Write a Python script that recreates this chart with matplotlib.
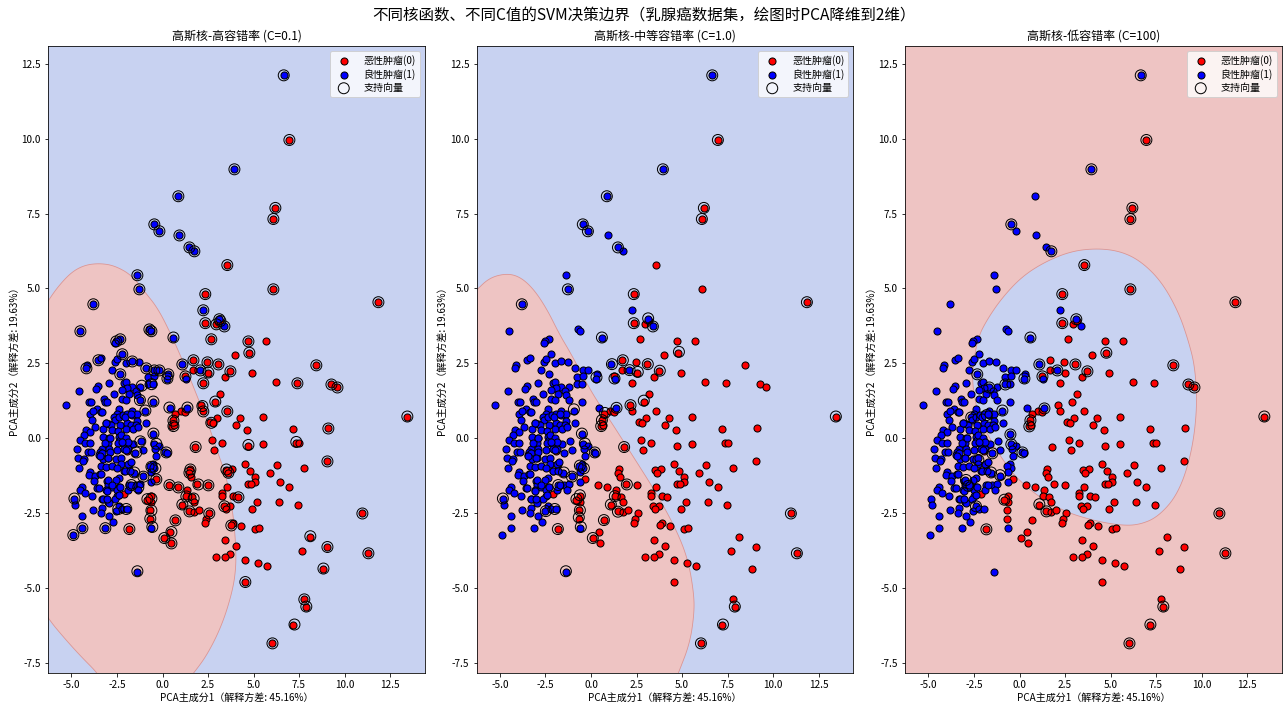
import numpy as np
import matplotlib
matplotlib.use("Agg")
import matplotlib.pyplot as plt

plt.rcParams['font.family'] = ['Noto Sans CJK SC', 'DejaVu Sans']
plt.rcParams['axes.unicode_minus'] = False

# values (PCA1, PCA2)
malignant = [
    (6.97,9.96),(6.20,7.69),(6.09,7.32),(3.56,5.78),(6.09,4.97),(2.35,4.81),(2.35,3.84),(11.86,4.54),(2.96,3.80),(3.18,3.91),
    (2.68,3.30),(4.72,3.23),(5.71,3.23),(4.77,2.85),(4.00,2.76),(1.70,2.60),(2.47,2.53),(3.07,2.46),(8.45,2.43),(1.70,2.26),
    (2.52,2.19),(3.73,2.23),(4.94,2.19),(1.26,2.06),(3.45,2.03),(6.26,1.86),(7.41,1.83),(2.24,1.83),(9.28,1.79),(9.61,1.69),
    (3.18,1.46),(2.90,1.22),(2.14,1.09),(3.56,0.89),(2.24,0.89),(1.04,0.92),(1.26,0.86),(0.71,0.82),(0.60,0.59),(0.54,0.39),
    (0.65,0.42),(5.54,0.69),(4.28,0.66),(3.01,0.66),(2.63,0.52),(2.79,0.49),(4.06,0.42),(4.66,0.26),(7.19,0.29),(9.11,0.32),
    (13.45,0.72),(2.74,-0.05),(3.29,-0.15),(1.81,-0.31),(2.85,-0.41),(4.72,-0.25),(5.54,-0.21),(7.35,-0.15),(7.52,-0.15),(9.06,-0.78),
    (4.55,-0.85),(6.31,-0.91),(7.79,-1.01),(1.53,-1.05),(1.48,-1.18),(1.59,-1.31),(3.51,-1.08),(3.84,-1.05),(3.62,-1.18),(4.83,-1.11),
    (5.93,-1.18),(5.10,-1.31),(5.10,-1.48),(4.72,-1.55),(4.88,-1.55),(6.48,-1.48),(6.97,-1.65),(1.92,-1.55),(2.52,-1.58),(3.56,-1.62),
    (0.38,-1.58),(0.87,-1.65),(1.37,-1.75),(1.31,-1.95),(1.64,-1.98),(3.29,-1.85),(3.29,-1.92),(3.89,-1.92),(4.17,-1.98),(1.75,-2.12),
    (5.21,-2.12),(6.42,-2.12),(7.46,-2.22),(1.09,-2.22),(3.40,-2.28),(3.73,-2.28),(3.51,-2.38),(4.94,-2.38),(1.48,-2.45),(1.75,-2.48),
    (2.03,-2.42),(2.57,-2.52),(10.98,-2.52),(2.41,-2.72),(2.35,-2.85),(0.71,-2.75),(3.89,-2.85),(3.78,-2.92),(4.33,-2.95),(5.10,-3.05),
    (5.32,-2.99),(-1.82,-3.05),(0.43,-3.15),(0.10,-3.35),(0.49,-3.52),(3.45,-3.42),(8.12,-3.29),(4.06,-3.62),(9.06,-3.65),(7.68,-3.79),
    (11.31,-3.85),(3.73,-3.89),(2.96,-3.96),(3.45,-3.99),(4.55,-4.09),(5.27,-4.19),(5.76,-4.26),(8.84,-4.36),(4.55,-4.82),(7.79,-5.39),
    (7.90,-5.63),(7.19,-6.23),(6.04,-6.86),(-0.67,-2.42),(-0.67,-2.69),(-0.61,-1.92),(-0.61,-2.12),(-0.83,-2.06),(-0.34,-1.38),(-2.10,-1.88),
    (-1.95,-0.42),(-1.82,-0.85),
]
benign = [
    (6.66,12.12),(3.95,8.98),(0.87,8.08),(-0.45,7.14),(-0.17,6.91),(0.93,6.77),(1.48,6.37),(1.75,6.24),(-1.38,5.44),(-1.27,4.97),
    (-3.80,4.47),(-4.51,3.57),(2.24,4.27),(3.12,3.97),(3.40,3.73),(-0.72,3.63),(-0.61,3.57),(0.60,3.36),(-2.32,3.30),(-2.54,3.23),
    (-2.59,3.19),(-5.28,1.12),(-4.57,1.56),(-4.13,2.43),(-4.18,2.33),(-3.52,2.60),(-3.36,2.66),(-2.59,2.53),(-2.48,2.63),(-2.21,2.80),
    (-2.76,2.29),(-1.99,2.50),(-1.66,2.56),(-1.27,2.53),(-0.89,2.33),(-2.32,2.13),(-2.92,1.83),(-3.52,1.73),(-3.63,1.63),(-2.10,1.83),
    (-1.99,1.86),(-0.78,2.03),(-0.45,2.26),(-0.17,2.26),(-0.45,2.09),(0.32,2.13),(0.27,1.99),(1.09,2.46),(2.08,2.26),(1.31,1.96),
    (-0.78,1.79),(-0.50,1.79),(-1.66,1.69),(-1.93,1.66),(-2.21,1.59),(-1.22,1.69),(-1.44,1.56),(-1.82,1.46),(-1.38,1.43),(-2.65,1.46),
    (-4.02,1.22),(-3.91,1.19),(-3.20,1.29),(-3.14,1.22),(-3.03,1.19),(-2.21,1.29),(-1.99,1.26),(-1.22,1.26),(-0.50,1.22),(-0.94,0.92),
    (0.43,1.02),(1.37,0.99),(-3.58,0.96),(-3.96,0.82),(-3.80,0.89),(-3.36,0.86),(-3.85,0.59),(-2.37,0.96),(-2.48,0.82),(-2.65,0.69),
    (-2.59,0.59),(-2.37,0.69),(-2.15,0.76),(-1.93,0.79),(-1.66,0.92),(-1.66,0.76),(-1.38,0.79),(-3.09,0.49),(-2.92,0.46),(-2.32,0.42),
    (-1.93,0.49),(-1.38,0.56),(-0.89,0.49),(-1.71,0.42),(-1.44,0.42),(-1.99,0.29),(-1.60,0.29),(-1.33,0.36),(-3.69,0.36),(-2.81,0.42),
    (-3.25,0.29),(-2.76,0.26),(-2.43,0.22),(-4.18,0.26),(-3.96,0.19),(-4.29,0.09),(-3.25,0.05),(-2.37,0.05),(-2.92,-0.01),(-2.32,-0.08),
    (-1.99,-0.15),(-4.51,-0.08),(-4.24,-0.18),(-3.96,-0.15),(-2.98,-0.18),(-2.43,-0.18),(-2.15,-0.15),(-1.16,-0.11),(-1.60,-0.21),(-0.50,0.12),
    (-0.45,-0.21),(-0.17,-0.25),(-0.39,-0.35),(-4.68,-0.38),(-4.07,-0.45),(-3.91,-0.45),(-3.30,-0.35),(-3.41,-0.45),(-2.92,-0.38),(-2.48,-0.41),
    (-2.10,-0.35),(-1.88,-0.38),(-1.05,-0.41),(-1.49,-0.51),(0.16,-0.48),(0.24,-0.50),(-0.34,-0.61),(-4.62,-0.65),(-4.29,-0.71),(-4.35,-0.78),
    (-3.47,-0.58),(-3.30,-0.51),(-3.25,-0.71),(-2.98,-0.65),(-2.53,-0.71),(-2.26,-0.68),(-2.26,-0.85),(-1.88,-0.88),(-4.57,-1.01),(-3.36,-0.95),
    (-3.08,-0.98),(-2.76,-0.95),(-2.48,-1.01),(-0.50,-0.85),(-0.45,-1.00),(-0.67,-0.95),(-3.96,-1.15),(-4.02,-1.25),(-3.69,-1.28),(-3.41,-1.21),
    (-2.10,-1.11),(-1.55,-1.16),(-0.61,-1.15),(-1.05,-1.28),(-3.74,-1.45),(-3.03,-1.42),(-2.37,-1.35),(-2.98,-1.57),(-3.58,-1.68),(-4.40,-1.62),
    (-4.51,-1.75),(-4.24,-1.85),(-3.85,-1.92),(-3.09,-1.75),(-2.76,-1.62),(-2.37,-1.62),(-1.82,-1.58),(-1.49,-1.58),(-1.22,-1.55),(-1.88,-1.75),
    (-1.33,-1.72),(-0.61,-1.48),(-2.48,-1.75),(-2.48,-1.92),(-4.84,-2.02),(-4.79,-2.22),(-3.30,-2.05),(-3.09,-2.02),(-2.98,-2.15),(-2.37,-2.28),
    (-2.53,-2.45),(-2.21,-2.38),(-1.93,-2.38),(-3.80,-2.42),(-3.30,-2.35),(-3.36,-2.52),(-4.40,-2.62),(-2.92,-2.62),(-2.70,-2.79),(-4.40,-3.02),
    (-3.14,-3.02),(-4.90,-3.25),(-0.61,-2.99),(-1.38,-4.46),
    (-3.30,0.86),(-2.04,0.71),(-1.71,0.82),(-3.08,0.49),(-2.26,0.10),(-1.99,-0.01),(-1.89,-0.12),(-2.22,-0.12),(-3.18,-0.18),(-2.90,0.00),
    (-3.45,-0.60),(-2.90,-0.46),(-1.99,-0.40),(-3.00,-0.68),(-1.75,-0.81),(-2.08,-1.10),(-1.80,-1.10),(-3.36,-1.20),(-2.54,-1.40),(-2.99,-1.40),
    (-2.76,-1.57),(-1.71,-1.57),(-3.07,-1.76),(-2.32,-1.63),(-2.63,-2.05),(-2.39,-1.90),(-2.94,-2.18),(-3.27,-2.05),(-3.03,-2.05),(-3.51,-1.68),
]

sv_low_c = [
    (6.66,12.12),(6.97,9.96),(3.95,8.98),(0.87,8.08),(-0.45,7.14),(-0.17,6.91),(0.93,6.77),(1.48,6.37),(1.75,6.24),(-1.38,5.44),
    (-1.27,4.97),(3.56,5.78),(6.20,7.69),(6.09,7.32),(6.09,4.97),(2.35,4.81),(2.35,3.84),(11.86,4.54),(-3.80,4.47),(-4.51,3.57),
    (2.24,4.27),(3.12,3.97),(3.40,3.73),(3.18,3.91),(2.96,3.80),(-0.72,3.63),(-0.61,3.57),(0.60,3.36),(-2.32,3.30),(-2.54,3.23),
    (2.68,3.30),(4.72,3.23),(4.77,2.85),(1.70,2.60),(2.47,2.53),(3.07,2.46),(8.45,2.43),(7.41,1.83),(9.28,1.79),(9.61,1.69),
    (-3.52,2.60),(-4.18,2.33),(-2.21,2.80),(-1.66,2.56),(-2.32,2.13),(-0.89,2.33),(-0.45,2.26),(-0.17,2.26),(0.32,2.13),(0.27,1.99),
    (1.09,2.46),(2.08,2.26),(2.52,2.19),(3.73,2.23),(1.26,2.06),(2.24,1.83),(-1.14,1.75),(-0.60,1.80),(-0.50,1.22),(-1.24,1.27),
    (-0.94,0.92),(0.38,1.02),(1.37,1.02),(0.60,0.40),(0.60,0.58),(2.19,1.07),(2.24,0.89),(2.68,0.51),(3.56,0.89),(2.90,1.22),
    (13.45,0.72),(9.11,0.32),(7.35,-0.13),(9.06,-0.78),(4.72,-0.23),(1.82,-0.30),(-0.50,0.15),(-0.34,-0.19),(-1.22,-0.11),(-1.44,-0.48),
    (0.21,-0.48),(-0.61,-0.96),(-0.39,-1.01),(-1.55,-1.15),(-1.05,-1.29),(-0.34,-1.38),(-1.71,-1.57),(-1.33,-1.65),(1.53,-1.05),(1.48,-1.16),
    (3.51,-1.05),(3.62,-1.16),(0.38,-1.57),(0.87,-1.65),(1.97,-1.55),(2.52,-1.58),(4.17,-1.98),(1.31,-1.95),(1.71,-2.02),(1.09,-2.22),
    (1.48,-2.45),(3.40,-2.28),(2.57,-2.52),(3.78,-2.92),(0.71,-2.75),(-0.61,-2.02),(-0.83,-2.04),(-0.61,-2.42),(-0.67,-2.69),(-0.56,-2.97),
    (-2.43,-2.37),(-1.99,-2.37),(-4.84,-2.02),(-4.40,-3.01),(-4.90,-3.24),(-3.14,-3.01),(-1.82,-3.04),(0.49,-3.14),(0.10,-3.34),(0.49,-3.52),
    (-1.38,-4.45),(10.98,-2.52),(8.12,-3.28),(9.06,-3.64),(11.31,-3.85),(8.84,-4.36),(4.55,-4.81),(7.79,-5.39),(7.90,-5.63),(7.25,-6.23),
    (6.04,-6.86),
]
sv_mid_c = [
    (6.66,12.12),(6.97,9.96),(3.95,8.98),(0.87,8.08),(-0.45,7.14),(-0.17,6.91),(1.48,6.37),(6.20,7.69),(6.09,7.32),(-1.27,4.97),
    (-3.80,4.47),(2.35,4.81),(2.35,3.84),(3.14,4.00),(3.40,3.73),(11.86,4.54),(0.60,3.36),(4.83,2.88),(1.75,2.60),(1.15,2.47),
    (2.12,2.27),(2.57,2.21),(3.12,2.47),(3.78,2.25),(0.30,2.03),(1.29,1.99),(2.17,1.10),(2.90,1.25),(1.40,1.01),(0.76,0.84),
    (0.60,0.60),(0.56,0.40),(-0.94,0.96),(-0.50,0.15),(-0.34,-0.18),(0.21,-0.48),(1.82,-0.30),(-1.49,-1.15),(-0.61,-0.92),(-0.39,-1.01),
    (-1.05,-1.29),(-1.80,-1.57),(1.97,-1.55),(-0.61,-1.91),(-0.80,-2.04),(-0.61,-2.41),(-0.67,-2.65),(-0.56,-2.97),(1.31,-1.94),(1.09,-2.22),
    (1.48,-2.46),(0.71,-2.74),(0.10,-3.34),(-1.38,-4.45),(-1.82,-3.04),(-4.84,-2.02),(-2.48,-2.44),(-1.99,-2.37),(13.45,0.72),(10.98,-2.52),
    (11.31,-3.85),(7.90,-5.63),(7.25,-6.23),(6.04,-6.86),
]
sv_high_c = [
    (6.66,12.12),(6.97,9.96),(3.95,8.98),(-0.45,7.14),(1.75,6.24),(6.20,7.69),(6.09,7.32),(3.56,5.78),(6.09,4.97),(2.35,4.81),
    (2.35,3.84),(3.12,3.97),(11.86,4.54),(0.60,3.36),(4.77,2.85),(1.09,2.46),(2.08,2.26),(3.07,2.46),(3.73,2.23),(1.26,2.06),
    (8.45,2.43),(9.28,1.79),(9.61,1.69),(13.45,0.72),(-2.32,2.13),(0.27,1.99),(-0.78,1.79),(-1.66,1.69),(-0.94,0.92),(1.37,0.99),
    (-2.65,0.69),(0.60,0.59),(0.54,0.39),(-1.80,0.77),(-0.50,0.12),(-0.45,-0.21),(0.16,-0.48),(-1.49,-0.51),(-2.26,-0.73),(-1.56,-1.15),
    (-1.07,-1.24),(-2.94,-1.40),(-2.81,-1.60),(-0.83,-2.06),(1.09,-2.21),(1.48,-2.45),(-2.39,-2.28),(-1.82,-3.05),(10.98,-2.52),(11.31,-3.85),
    (7.90,-5.63),(7.19,-6.23),(6.04,-6.86),
]

# decision boundaries, the outer points lie past the axes
boundary_low_c = [
    (-7.3,3.6),(-6.29,4.58),(-5.74,5.06),(-5.01,5.54),(-4.28,5.78),(-3.45,5.84),(-2.63,5.76),(-1.71,5.45),(-0.98,4.89),(-0.25,4.33),
    (0.49,3.44),(1.33,2.27),(2.06,1.16),(2.50,0.49),(3.05,-0.51),(3.51,-1.29),(3.88,-2.52),(4.02,-3.52),(4.04,-4.30),(3.86,-5.08),
    (3.30,-6.20),(2.50,-7.20),(1.70,-7.87),(0.8,-8.5),(-2.9,-8.5),(-3.54,-7.87),(-4.46,-7.31),(-5.37,-6.70),(-6.29,-6.03),(-7.3,-5.0),
]
boundary_mid_c = [
    (-7.3,4.3),(-6.29,4.95),(-5.56,5.36),(-4.64,5.50),(-3.91,5.39),(-3.18,5.00),(-2.44,4.33),(-1.71,3.44),(-1.13,2.85),(-0.30,1.90),
    (0.30,1.27),(1.04,0.60),(2.32,-0.62),(3.60,-1.85),(4.70,-3.08),(5.34,-4.08),(5.65,-5.19),(5.67,-5.86),(5.43,-6.86),(4.79,-7.87),
    (4.3,-8.6),(-8.5,-9.5),(-8.5,3.5),
]
boundary_high_c = [
    (4.33,6.34),(2.87,6.25),(1.40,5.89),(0.12,5.39),(-0.98,4.67),(-1.80,3.94),(-2.30,3.33),(-2.63,2.16),(-2.44,1.16),(-1.99,0.38),
    (-1.16,-0.51),(-0.25,-1.29),(1.04,-1.96),(2.50,-2.46),(3.97,-2.74),(5.43,-2.91),(6.53,-2.91),(7.63,-2.63),(8.73,-1.85),(9.46,-0.51),
    (9.77,1.05),(9.64,2.38),(9.28,3.25),(8.73,4.22),(7.81,5.22),(6.71,5.89),(5.62,6.23),
]

x_ticks = [-5.0, -2.5, 0.0, 2.5, 5.0, 7.5, 10.0, 12.5]
y_ticks = [-7.5, -5.0, -2.5, 0.0, 2.5, 5.0, 7.5, 10.0, 12.5]
titles = ['高斯核-高容错率 (C=0.1)', '高斯核-中等容错率 (C=1.0)', '高斯核-低容错率 (C=100)']

blue_bg = '#C8D2F1'
red_bg = '#EEC4C3'
edge_col = '#DB9492'


def smooth(points, n=3):
    # corner cutting so the read-off outline is not kinked
    p = np.array(points)
    for _ in range(n):
        q = np.roll(p, -1, axis=0)
        p = np.column_stack([0.75 * p + 0.25 * q, 0.25 * p + 0.75 * q]).reshape(-1, 2)
    return p


mal = np.array(malignant)
ben = np.array(benign)

fig, axes = plt.subplots(1, 3, figsize=(1288 / 72, 709 / 72), dpi=72)
fig.subplots_adjust(left=48 / 1288, right=1282 / 1288, top=1 - 46 / 709, bottom=1 - 673 / 709, wspace=51.5 / 377)

panels = [
    (sv_low_c, boundary_low_c, blue_bg, red_bg),
    (sv_mid_c, boundary_mid_c, blue_bg, red_bg),
    (sv_high_c, boundary_high_c, red_bg, blue_bg),
]
for ax, title, (sv, boundary, bg, fg) in zip(axes, titles, panels):
    ax.set_facecolor(bg)
    outline = smooth(boundary)
    ax.fill(outline[:, 0], outline[:, 1], facecolor=fg, edgecolor=edge_col, linewidth=0.8, zorder=1)
    ax.scatter(mal[:, 0], mal[:, 1], c='red', edgecolors='k', s=50, label='恶性肿瘤(0)', zorder=2)
    ax.scatter(ben[:, 0], ben[:, 1], c='blue', edgecolors='k', s=50, label='良性肿瘤(1)', zorder=2)
    rings = np.array(sv)
    ax.scatter(rings[:, 0], rings[:, 1], s=120, facecolors='none', edgecolors='k', linewidths=1, label='支持向量', zorder=3)
    ax.set_xlim(-6.29, 14.42)
    ax.set_ylim(-7.85, 13.1)
    ax.set_xticks(x_ticks)
    ax.set_yticks(y_ticks)
    ax.set_xlabel('PCA主成分1（解释方差: 45.16%）', labelpad=3)
    ax.set_ylabel('PCA主成分2（解释方差: 19.63%）', labelpad=2)
    ax.set_title(title, fontsize=12)
    ax.legend(loc='upper right', labelspacing=0.3, handletextpad=1.0)

fig.suptitle('不同核函数、不同C值的SVM决策边界（乳腺癌数据集，绘图时PCA降维到2维）', fontsize=15.5, y=0.989)
plt.savefig('out.png', dpi=72)
